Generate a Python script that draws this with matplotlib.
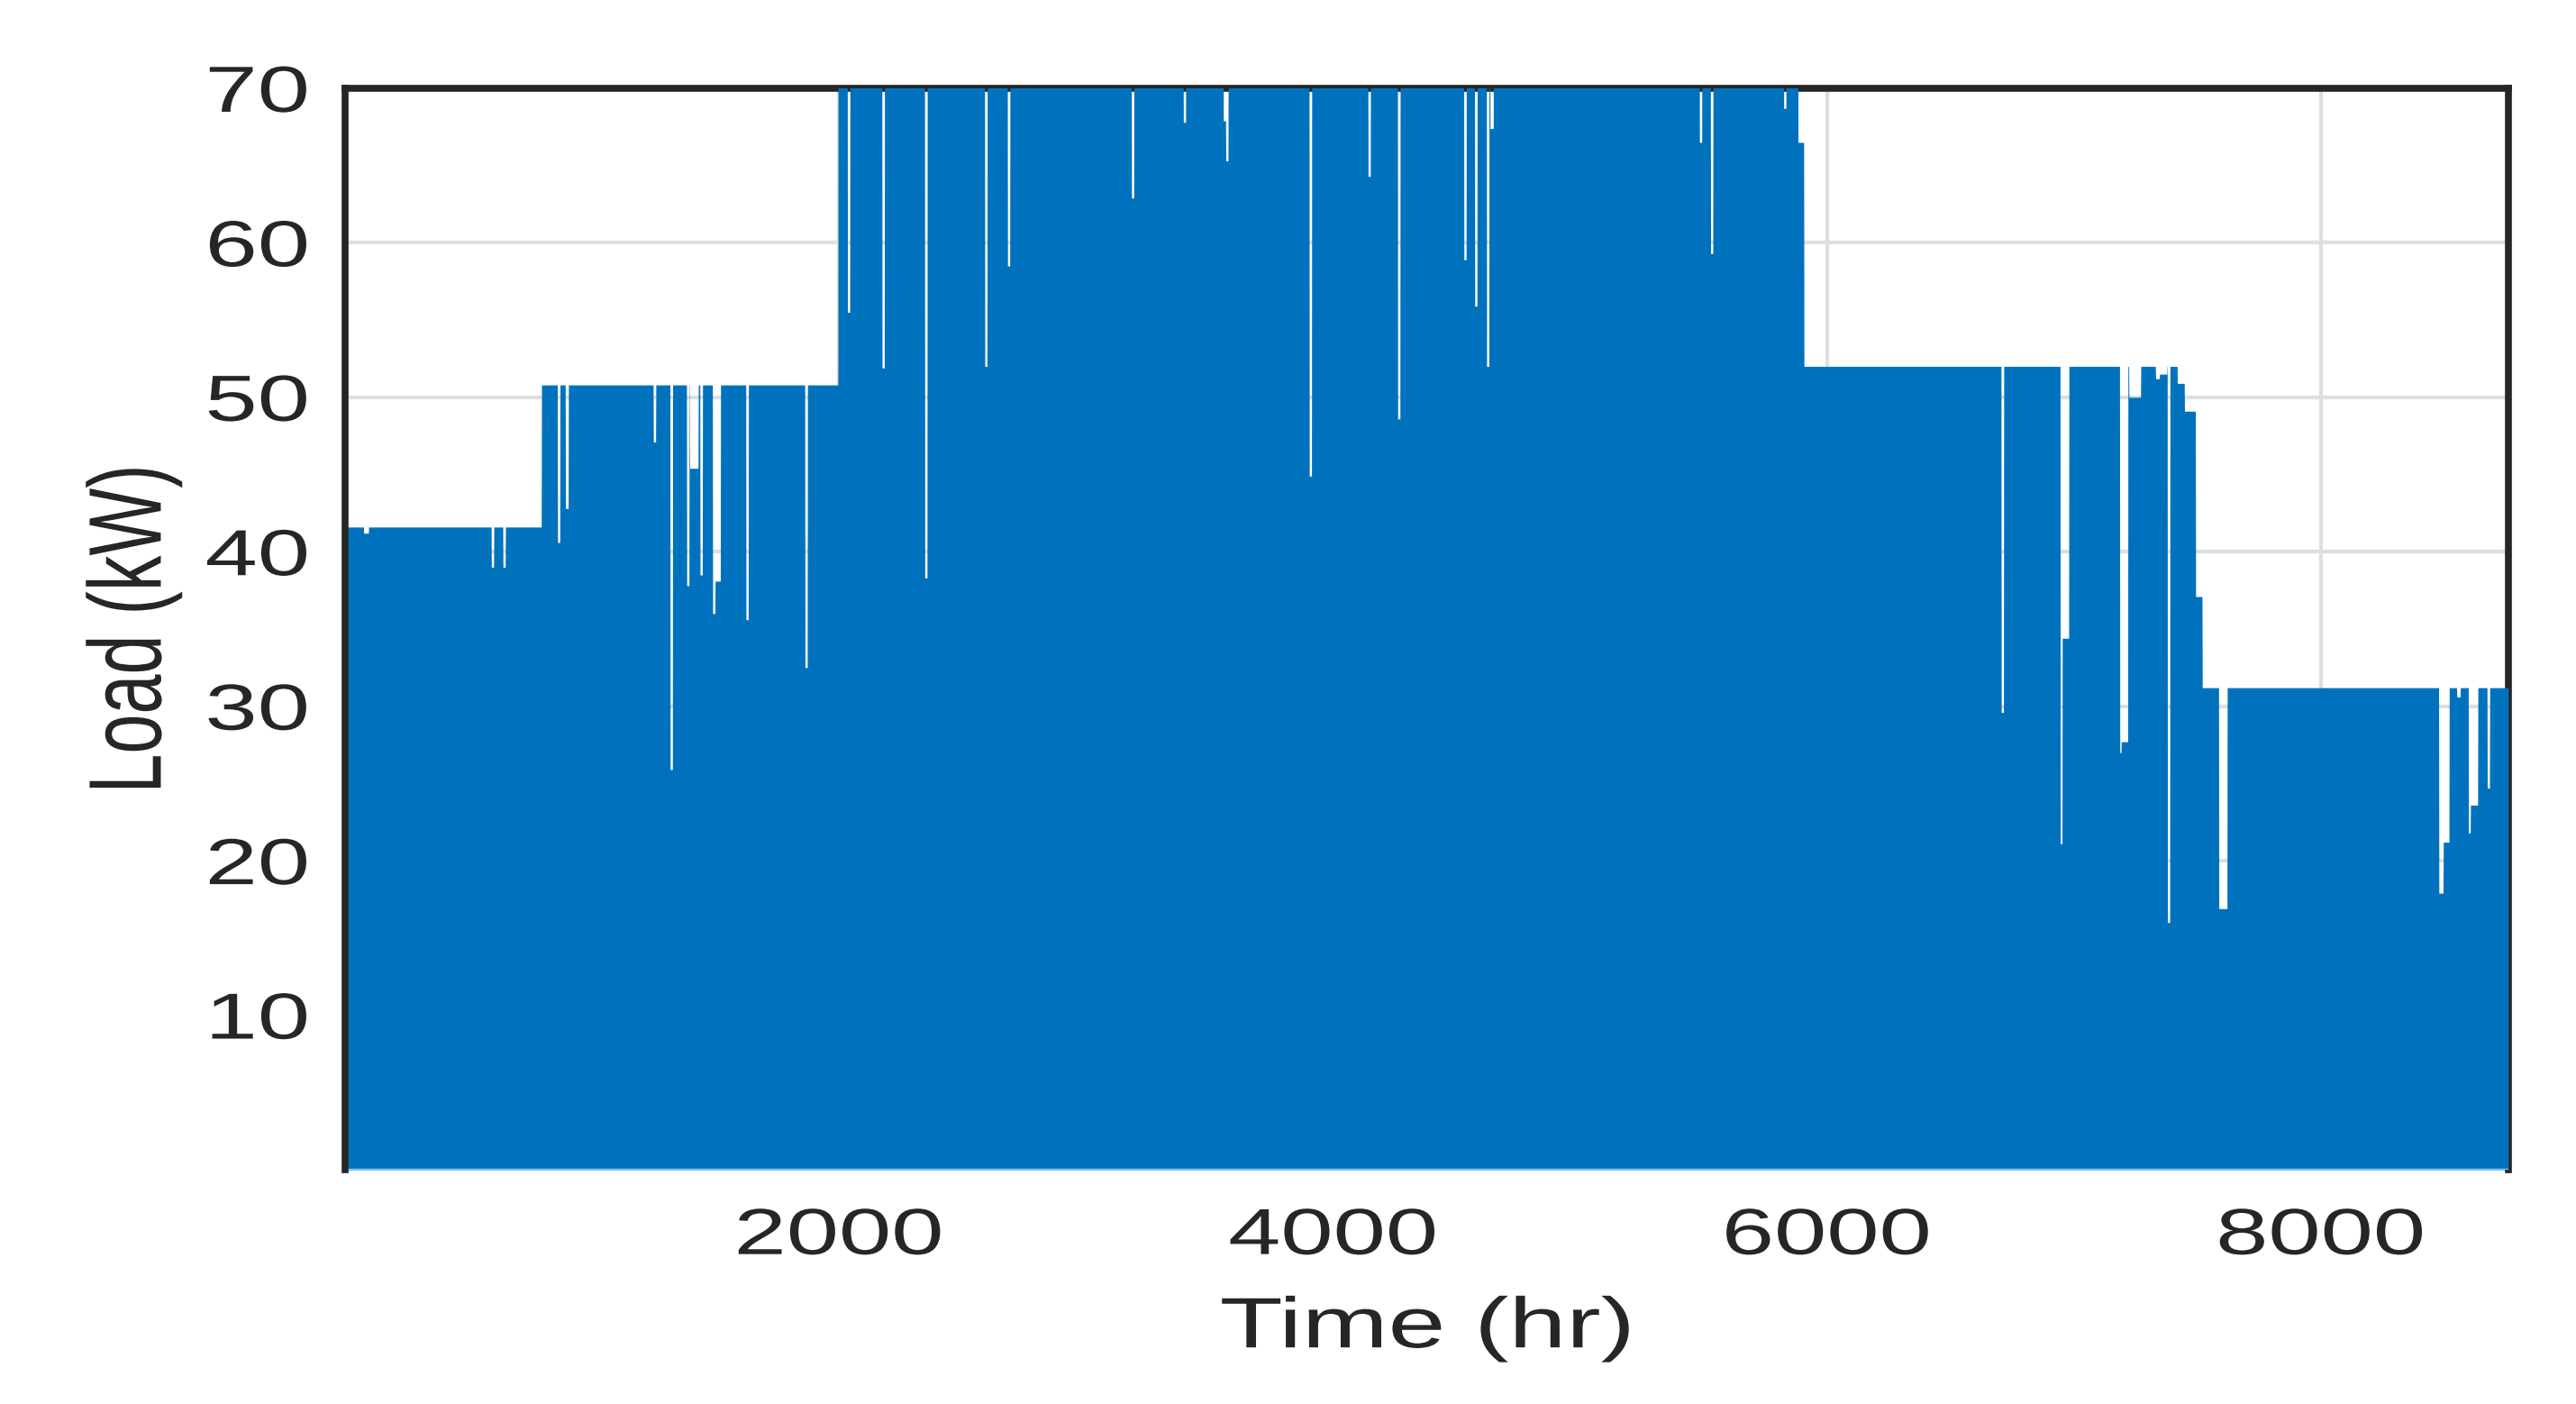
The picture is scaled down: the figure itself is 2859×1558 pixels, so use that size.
import numpy as np
import matplotlib
matplotlib.use("Agg")
import matplotlib.pyplot as plt
from matplotlib.patheffects import AbstractPathEffect
from matplotlib.transforms import Affine2D

# base load levels (kW) over the year, start / end hour
level_start = [0, 795, 1996, 5907, 7419, 7448, 7493, 7520]
level_end = [795, 1996, 5907, 7419, 7448, 7493, 7520, 8760]
level_value = [41.6, 50.8, 75.0, 52.0, 50.9, 49.1, 37.1, 31.2]

# short drops in load: start hour, duration (hr), value (kW)
dip_hour = [75, 592, 639, 860, 892, 1248, 1316, 1383, 1395, 1437, 1488, 1498,
            1623, 1862, 2034, 2174, 2347, 2590, 2682, 3184, 3394, 3556, 3566,
            3904, 4142, 4262, 4530, 4574, 4622, 4636, 5484, 5529, 5825, 5883,
            6706, 6945, 6953, 7186, 7192, 7223, 7331, 7347, 7379, 7587, 8478,
            8496, 8551, 8598, 8606, 8674]
dip_len = [20, 10, 10, 10, 12, 10, 10, 10, 35, 10, 10, 22,
           10, 10, 10, 10, 10, 10, 10, 10, 10, 10, 10,
           10, 10, 10, 10, 10, 10, 14, 10, 10, 10, 24,
           10, 8, 27, 6, 27, 48, 16, 30, 10, 34, 18,
           24, 14, 8, 30, 10]
dip_value = [41.2, 39.0, 39.0, 40.6, 42.8, 47.1, 25.9, 37.8, 45.4, 38.5, 36.0, 38.1,
             35.6, 32.5, 55.5, 51.9, 38.3, 52.0, 58.5, 62.9, 67.8, 67.9, 65.3,
             44.9, 64.3, 48.6, 58.9, 55.9, 52.0, 67.4, 66.5, 59.3, 68.7, 66.5,
             29.6, 21.1, 34.4, 27.0, 27.7, 50.0, 51.2, 51.5, 16.0, 16.9, 17.9,
             21.2, 30.6, 21.8, 23.6, 24.7]

x_ticks = [2000, 4000, 6000, 8000]
y_ticks = [10, 20, 30, 40, 50, 60, 70]

hours = np.arange(8760)
load = np.zeros(8760)
for s, e, v in zip(level_start, level_end, level_value):
    load[s:e] = v
for h, n, v in zip(dip_hour, dip_len, dip_value):
    load[h:h + n] = v


class Widen(AbstractPathEffect):
    # the source picture is stretched sideways, so widen the glyphs
    def __init__(self, sx, anchor="center"):
        super().__init__()
        self.sx = sx
        self.anchor = anchor

    def draw_path(self, renderer, gc, tpath, affine, rgbFace=None):
        ext = tpath.get_extents(affine)
        x0 = ext.x1 if self.anchor == "right" else (ext.x0 + ext.x1) / 2
        affine = affine + Affine2D().translate(-x0, 0).scale(self.sx, 1).translate(x0, 0)
        renderer.draw_path(gc, tpath, affine, rgbFace)


plt.rcParams["font.family"] = ["Liberation Sans", "DejaVu Sans"]
sx = 1.45
txt = "#262626"

fig = plt.figure(figsize=(28.59, 15.58), dpi=100)
ax = fig.add_axes([0.134, 0.1669, 0.8398, 0.7702])

ax.fill_between(hours, load, color="#0072BD", lw=0, zorder=3)
ax.axhline(0, color="#7ec0ea", lw=2.5, zorder=3.5)

ax.set_xlim(0, 8760)
ax.set_ylim(0, 70)
ax.set_xticks(x_ticks)
ax.set_yticks(y_ticks)
ax.set_axisbelow(True)
ax.grid(True, color="#dedede", lw=3)
ax.tick_params(length=0, labelsize=52, labelcolor=txt)
ax.tick_params(axis="x", pad=30)
ax.tick_params(axis="y", pad=29)

for side in ["left", "top", "right"]:
    ax.spines[side].set_color(txt)
    ax.spines[side].set_linewidth(5.5)
ax.spines["left"].set_zorder(4)
ax.spines["bottom"].set_visible(False)

ax.set_xlabel("Time (hr)", fontsize=57, color=txt, labelpad=22,
              path_effects=[Widen(sx)])
ax.set_ylabel("Load (kW)", fontsize=57, color=txt, path_effects=[Widen(sx)])
ax.yaxis.set_label_coords(-0.082, 0.5)

plt.setp(ax.get_xticklabels(), path_effects=[Widen(sx)])
plt.setp(ax.get_yticklabels(), path_effects=[Widen(sx, "right")])

fig.savefig("out.png", dpi=100)
